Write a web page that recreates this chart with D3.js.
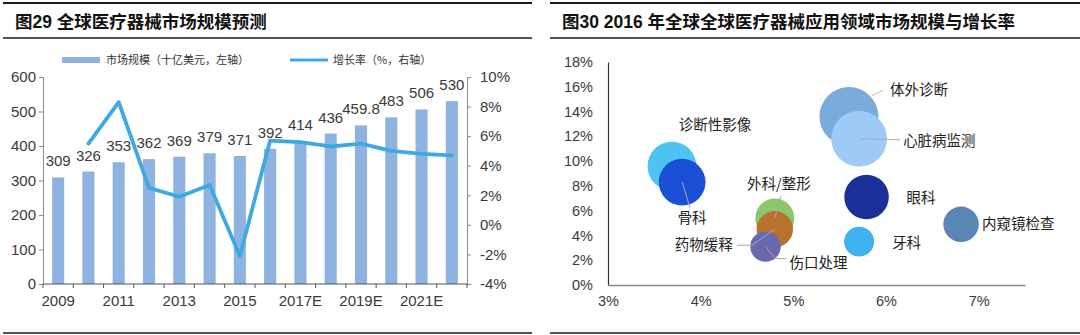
<!DOCTYPE html>
<html>
<head>
<meta charset="utf-8">
<script src="https://cdn.jsdelivr.net/npm/d3@7"></script>
<style>
  html, body { margin: 0; padding: 0; background: #fff; }
  svg { display: block; }
  text { font-family: "Liberation Sans", Arial, "Noto Sans CJK SC", sans-serif; fill: #333; }
  .cjk { font-family: "Noto Sans CJK SC", sans-serif; }
</style>
</head>
<body>
<svg id="chart" width="1080" height="335"></svg>
<script>
// ---- Figure 29: global medical device market size forecast ----
const years = ["2009", "2010", "2011", "2012", "2013", "2014", "2015", "2016",
               "2017E", "2018E", "2019E", "2020E", "2021E", "2022E"];
const marketSize = [309, 326, 353, 362, 369, 379, 371, 392, 414, 436, 459.8, 483, 506, 530];
const marketLabels = ["309", "326", "353", "362", "369", "379", "371", "392",
                      "414", "436", "459.8", "483", "506", "530"];
const growthRate = [null, 5.5, 8.3, 2.5, 1.9, 2.7, -2.1, 5.7, 5.6, 5.3, 5.5, 5.0, 4.8, 4.7];
const leftTicks = [0, 100, 200, 300, 400, 500, 600];
const rightTicks = [-4, -2, 0, 2, 4, 6, 8, 10];

// ---- Figure 30: 2016 market size and growth by application field ----
const fields = ["诊断性影像", "骨科", "外科/整形", "药物缓释", "伤口处理",
                "体外诊断", "心脏病监测", "眼科", "牙科", "内窥镜检查"];
const fieldGrowth = [3.69, 3.80, 4.80, 4.80, 4.70, 5.60, 5.71, 5.79, 5.71, 6.81];   // x, %
const fieldShare  = [9.6, 8.3, 5.4, 4.5, 3.1, 13.6, 11.8, 7.1, 3.5, 4.9];           // y, %
const fieldSize   = [36, 33, 23, 20, 14, 52.6, 47, 30, 13.5, 19];                   // bubble area
const bubbleXTicks = [3, 4, 5, 6, 7];
const bubbleYTicks = [0, 2, 4, 6, 8, 10, 12, 14, 16, 18];

const svg = d3.select("#chart");

// ---------- panel frames and titles ----------
function panelFrame(x0, x1, title, tx) {
  const g = svg.append("g");
  g.append("line").attr("x1", x0).attr("x2", x1).attr("y1", 3).attr("y2", 3)
    .attr("stroke", "#1a1a1a").attr("stroke-width", 2);
  g.append("line").attr("x1", x0).attr("x2", x1).attr("y1", 38).attr("y2", 38)
    .attr("stroke", "#1a1a1a").attr("stroke-width", 1.6);
  g.append("line").attr("x1", x0).attr("x2", x1).attr("y1", 333).attr("y2", 333)
    .attr("stroke", "#1a1a1a").attr("stroke-width", 1.6);
  g.append("text").attr("x", tx).attr("y", 28)
    .attr("font-size", 17.5).attr("font-weight", "bold").style("fill", "#111")
    .text(title);
}
panelFrame(3, 532, "图29 全球医疗器械市场规模预测", 15);
panelFrame(550, 1080, "图30 2016 年全球全球医疗器械应用领域市场规模与增长率", 562);

// ---------- left chart: bars + growth line ----------
const x = d3.scaleBand().domain(years).range([43, 467]).paddingInner(0.6).paddingOuter(0.3);
const yL = d3.scaleLinear().domain([0, 600]).range([284, 77]);
const yR = d3.scaleLinear().domain([-4, 10]).range([284, 77]);

const barColor = "#8fb3e0";
const lineColor = "#3ea9e0";
const axisGray = "#8a8a8a";

const left = svg.append("g");

// legend
left.append("rect").attr("x", 62).attr("y", 57).attr("width", 38).attr("height", 6).attr("fill", barColor);
left.append("text").attr("class", "cjk").attr("x", 106).attr("y", 64).attr("font-size", 11)
  .text("市场规模（十亿美元，左轴）");
left.append("line").attr("x1", 290).attr("x2", 328).attr("y1", 60).attr("y2", 60)
  .attr("stroke", lineColor).attr("stroke-width", 3);
left.append("text").attr("class", "cjk").attr("x", 333).attr("y", 64).attr("font-size", 11)
  .text("增长率（%，右轴）");

// bars
left.selectAll("rect.bar").data(marketSize).join("rect").attr("class", "bar")
  .attr("x", (d, i) => x(years[i]))
  .attr("width", x.bandwidth())
  .attr("y", d => yL(d))
  .attr("height", d => yL(0) - yL(d))
  .attr("fill", barColor);

// bar value labels
left.selectAll("text.val").data(marketSize).join("text").attr("class", "val")
  .attr("x", (d, i) => x(years[i]) + x.bandwidth() / 2)
  .attr("y", d => yL(d) - 11)
  .attr("text-anchor", "middle")
  .attr("font-size", 15)
  .style("fill", "#3a3a3a")
  .text((d, i) => marketLabels[i]);

// left y axis
const axL = left.append("g").attr("transform", "translate(43,0)")
  .call(d3.axisLeft(yL).tickValues(leftTicks).tickSize(4).tickSizeOuter(0).tickPadding(3));
// right y axis
const axR = left.append("g").attr("transform", "translate(467,0)")
  .call(d3.axisRight(yR).tickValues(rightTicks).tickSize(4).tickSizeOuter(0).tickPadding(9)
    .tickFormat(d => d + "%"));
[axL, axR].forEach(a => {
  a.select(".domain").attr("stroke", axisGray);
  a.selectAll(".tick line").attr("stroke", axisGray);
  a.selectAll(".tick text").attr("font-size", 15).style("fill", "#3a3a3a")
    .attr("font-family", "Liberation Sans, Arial, sans-serif");
});

// x axis with ticks on category boundaries
const xAxis = left.append("g");
xAxis.append("line").attr("x1", 43).attr("x2", 467).attr("y1", 284).attr("y2", 284)
  .attr("stroke", "#555").attr("stroke-width", 1.2);
xAxis.selectAll("line.tk").data(d3.range(years.length + 1)).join("line").attr("class", "tk")
  .attr("x1", k => x.range()[0] + k * x.step())
  .attr("x2", k => x.range()[0] + k * x.step())
  .attr("y1", 284).attr("y2", 288)
  .attr("stroke", "#555");
xAxis.selectAll("text").data(years.filter((d, i) => i % 2 === 0)).join("text")
  .attr("x", d => x(d) + x.bandwidth() / 2)
  .attr("y", 306)
  .attr("text-anchor", "middle")
  .attr("font-size", 15)
  .style("fill", "#3a3a3a")
  .text(d => d);

// growth line
const line = d3.line()
  .defined(d => d != null)
  .x((d, i) => x(years[i]) + x.bandwidth() / 2)
  .y(d => yR(d));
left.append("path").datum(growthRate)
  .attr("d", line)
  .attr("fill", "none")
  .attr("stroke", lineColor)
  .attr("stroke-width", 3.8)
  .attr("stroke-linejoin", "round")
  .attr("stroke-linecap", "round");

// ---------- right chart: bubble chart ----------
const xB = d3.scaleLinear().domain([3, 7.5]).range([608, 1025]);
const yB = d3.scaleLinear().domain([0, 18]).range([285, 62]);
const rB = d3.scaleSqrt().domain([0, d3.max(fieldSize)]).range([0, 29.5]);

const fieldColors = {
  "诊断性影像": "#4cc3f1", "骨科": "#1b4fd6", "外科/整形": "#8cc76d", "药物缓释": "#b8722e",
  "伤口处理": "#6868ae", "体外诊断": "#79abdb", "心脏病监测": "#9ecbf5", "眼科": "#1a2f97",
  "牙科": "#3fb1ec", "内窥镜检查": "#5a86b5"
};
// label placement relative to bubble centre, and optional leader polyline (relative points)
const labelLayout = {
  "诊断性影像": { dx: 43, dy: -41, anchor: "middle" },
  "骨科":       { dx: 10, dy: 36, anchor: "middle", leader: [[0, 0], [8, 26]] },
  "外科/整形":  { dx: 4, dy: -34, anchor: "middle", leader: [[0, 0], [6, -22]] },
  "药物缓释":   { dx: -42, dy: 16, anchor: "end", leader: [[0, 0], [-23, 16], [-38, 16]] },
  "伤口处理":   { dx: 24, dy: 16, anchor: "start", leader: [[0, 0], [10, 12], [21, 12]] },
  "体外诊断":   { dx: 41, dy: -27, anchor: "start", leader: [[23, -21], [34, -26]], leaderColor: "#d8b48c" },
  "心脏病监测": { dx: 44, dy: 2, anchor: "start", leader: [[0, 0], [41, 1]] },
  "眼科":       { dx: 40, dy: 1, anchor: "start" },
  "牙科":       { dx: 33, dy: 1, anchor: "start" },
  "内窥镜检查": { dx: 21, dy: 0, anchor: "start" }
};

const right = svg.append("g");
const bubbles = fields.map((name, i) => ({
  name, gx: fieldGrowth[i], gy: fieldShare[i], size: fieldSize[i]
}));
// draw order: background bubbles first where they overlap
const drawOrder = ["诊断性影像", "骨科", "体外诊断", "心脏病监测", "外科/整形", "药物缓释",
                   "伤口处理", "眼科", "牙科", "内窥镜检查"];
const ordered = drawOrder.map(n => bubbles.find(b => b.name === n));

right.selectAll("circle").data(ordered).join("circle")
  .attr("cx", d => xB(d.gx))
  .attr("cy", d => yB(d.gy))
  .attr("r", d => rB(d.size))
  .attr("fill", d => fieldColors[d.name]);

// leader lines
right.selectAll("polyline").data(ordered.filter(d => labelLayout[d.name].leader)).join("polyline")
  .attr("points", d => labelLayout[d.name].leader
    .map(p => [xB(d.gx) + p[0], yB(d.gy) + p[1]].join(",")).join(" "))
  .attr("fill", "none")
  .attr("stroke", d => labelLayout[d.name].leaderColor || "#a8a8b4")
  .attr("stroke-width", 1);

// bubble labels
right.selectAll("text.lbl").data(ordered).join("text").attr("class", "lbl cjk")
  .attr("x", d => xB(d.gx) + labelLayout[d.name].dx)
  .attr("y", d => yB(d.gy) + labelLayout[d.name].dy)
  .attr("dy", "0.35em")
  .attr("text-anchor", d => labelLayout[d.name].anchor)
  .attr("font-size", 14.5)
  .style("fill", "#222")
  .text(d => d.name);

// axes
const axBY = right.append("g").attr("transform", "translate(608,0)")
  .call(d3.axisLeft(yB).tickValues(bubbleYTicks).tickSize(0).tickPadding(15).tickFormat(d => d + "%"));
axBY.select(".domain").attr("stroke", "#333").attr("stroke-width", 1.2);
const axBX = right.append("g").attr("transform", "translate(0,285)")
  .call(d3.axisBottom(xB).tickValues(bubbleXTicks).tickSize(0).tickPadding(11).tickFormat(d => d + "%"));
axBX.select(".domain").attr("stroke", "#8a8a8a").attr("stroke-width", 1.5);
[axBY, axBX].forEach(a => a.selectAll(".tick text").attr("font-size", 14.5).style("fill", "#3a3a3a")
  .attr("font-family", "Liberation Sans, Arial, sans-serif"));
</script>
</body>
</html>
